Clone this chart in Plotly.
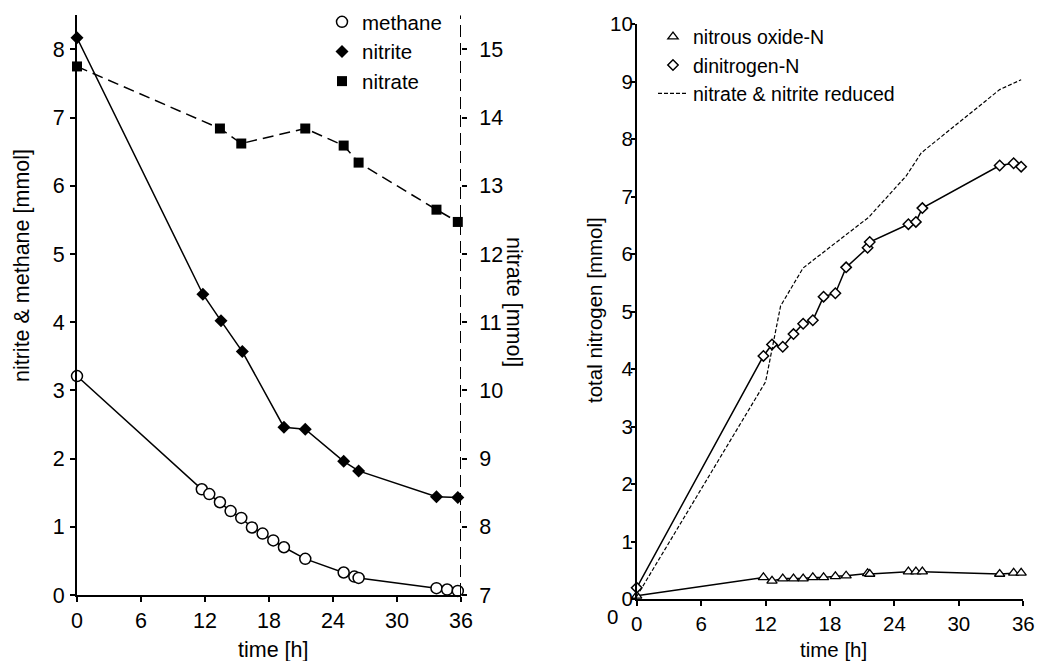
import plotly.graph_objects as go

# ---------------- data ----------------
# left panel
t_methane = [0, 11.7, 12.4, 13.4, 14.4, 15.4, 16.4, 17.4, 18.4, 19.4, 21.4, 25.0, 26.0, 26.4, 33.7, 34.7, 35.7]
methane = [3.21, 1.55, 1.48, 1.36, 1.23, 1.13, 0.99, 0.90, 0.80, 0.70, 0.53, 0.33, 0.27, 0.25, 0.10, 0.08, 0.06]

t_nitrite = [0, 11.8, 13.5, 15.5, 19.4, 21.4, 25.0, 26.4, 33.7, 35.7]
nitrite = [8.17, 4.41, 4.02, 3.57, 2.46, 2.43, 1.96, 1.82, 1.44, 1.43]

t_nitrate = [0, 13.4, 15.4, 21.4, 25.0, 26.4, 33.7, 35.7]
nitrate = [14.75, 13.84, 13.62, 13.84, 13.59, 13.34, 12.65, 12.47]

# right panel
t_gas = [0, 11.8, 12.6, 13.6, 14.6, 15.5, 16.4, 17.4, 18.5, 19.5, 21.5, 21.7, 25.3, 26.0, 26.6, 33.8, 35.1, 35.8]
dinitrogen = [0.20, 4.23, 4.43, 4.39, 4.61, 4.79, 4.85, 5.26, 5.32, 5.77, 6.11, 6.21, 6.52, 6.56, 6.80, 7.54, 7.58, 7.52]
nitrous_oxide = [0.06, 0.38, 0.32, 0.36, 0.36, 0.36, 0.38, 0.38, 0.40, 0.41, 0.45, 0.44, 0.48, 0.48, 0.48, 0.44, 0.46, 0.46]

t_reduced = [0, 12.0, 13.4, 15.5, 21.6, 25.1, 26.5, 33.8, 35.8]
reduced = [0.05, 3.78, 5.10, 5.76, 6.64, 7.36, 7.76, 8.86, 9.03]

time_ticks = [0, 6, 12, 18, 24, 30, 36]
left_ticks = [0, 1, 2, 3, 4, 5, 6, 7, 8]
nitrate_ticks = [7, 8, 9, 10, 11, 12, 13, 14, 15]
right_ticks = [0, 1, 2, 3, 4, 5, 6, 7, 8, 9, 10]

# ---------------- layout helpers ----------------
W, H = 1040, 661
FONT = "Arial, Liberation Sans, sans-serif"
FS_L = 21.5
FS_R = 20.5


def px(x):
    return x / W


def py(y):
    return 1 - y / H


fig = go.Figure()

BLACK = "black"

# ---- left panel ----
fig.add_trace(go.Scatter(x=t_methane, y=methane, mode="lines", line=dict(color=BLACK, width=1.5),
                         xaxis="x", yaxis="y", showlegend=False, cliponaxis=False))
fig.add_trace(go.Scatter(x=t_nitrite, y=nitrite, mode="lines", line=dict(color=BLACK, width=1.5),
                         xaxis="x", yaxis="y", showlegend=False, cliponaxis=False))
fig.add_trace(go.Scatter(x=t_nitrate, y=nitrate, mode="lines", line=dict(color=BLACK, width=1.5, dash="11px,6px"),
                         xaxis="x", yaxis="y2", showlegend=False, cliponaxis=False))

fig.add_trace(go.Scatter(x=t_methane, y=methane, mode="markers", name="methane",
                         marker=dict(symbol="circle", size=11, color="white", line=dict(color=BLACK, width=1.5)),
                         xaxis="x", yaxis="y", legend="legend", cliponaxis=False))
fig.add_trace(go.Scatter(x=t_nitrite, y=nitrite, mode="markers", name="nitrite",
                         marker=dict(symbol="diamond", size=10, color=BLACK, line=dict(width=0)),
                         xaxis="x", yaxis="y", legend="legend", cliponaxis=False))
fig.add_trace(go.Scatter(x=t_nitrate, y=nitrate, mode="markers", name="nitrate",
                         marker=dict(symbol="square", size=10, color=BLACK, line=dict(width=0)),
                         xaxis="x", yaxis="y2", legend="legend", cliponaxis=False))

# ---- right panel ----
fig.add_trace(go.Scatter(x=t_gas, y=nitrous_oxide, mode="lines", line=dict(color=BLACK, width=1.5),
                         xaxis="x2", yaxis="y3", showlegend=False, cliponaxis=False))
fig.add_trace(go.Scatter(x=t_gas, y=dinitrogen, mode="lines", line=dict(color=BLACK, width=1.5),
                         xaxis="x2", yaxis="y3", showlegend=False, cliponaxis=False))

fig.add_trace(go.Scatter(x=t_gas, y=nitrous_oxide, mode="markers", name="nitrous oxide-N",
                         marker=dict(symbol="triangle-up", size=9, color="white", line=dict(color=BLACK, width=1.3)),
                         xaxis="x2", yaxis="y3", legend="legend2", cliponaxis=False))
fig.add_trace(go.Scatter(x=t_gas, y=dinitrogen, mode="markers", name="dinitrogen-N",
                         marker=dict(symbol="diamond", size=8, color="white", line=dict(color=BLACK, width=1.5)),
                         xaxis="x2", yaxis="y3", legend="legend2", cliponaxis=False))
fig.add_trace(go.Scatter(x=t_reduced, y=reduced, mode="lines", name="nitrate & nitrite reduced",
                         line=dict(color=BLACK, width=1.2, dash="4px,2px"),
                         xaxis="x2", yaxis="y3", legend="legend2", cliponaxis=False))


def axis_common(fs, ticklen=5):
    return dict(showgrid=False, zeroline=False, ticks="outside", ticklen=ticklen, tickwidth=1.5, automargin=False,
                tickcolor=BLACK, tickfont=dict(family=FONT, size=fs, color=BLACK))


fig.update_layout(
    width=W, height=H,
    margin=dict(l=0, r=0, t=0, b=0, pad=0, autoexpand=False),
    paper_bgcolor="white", plot_bgcolor="white",
    font=dict(family=FONT, size=FS_L, color=BLACK),
    xaxis=dict(domain=[px(77), px(461)], range=[0, 36], tickvals=time_ticks, anchor="y",
               showline=True, linecolor=BLACK, linewidth=2, **axis_common(FS_L)),
    yaxis=dict(domain=[py(595), py(15.3)], range=[0, 8.5], tickvals=left_ticks, anchor="x",
               showline=True, linecolor=BLACK, linewidth=2, ticklabelstandoff=1, **axis_common(FS_L)),
    yaxis2=dict(overlaying="y", side="right", anchor="x", range=[7, 15.5], tickvals=nitrate_ticks,
                showline=False, ticklabelstandoff=8, **axis_common(FS_L)),
    xaxis2=dict(domain=[px(636.7), px(1023.3)], range=[0, 36], tickvals=time_ticks, anchor="y3",
                showline=True, linecolor=BLACK, linewidth=1.5, **axis_common(FS_R)),
    yaxis3=dict(domain=[py(599.3), py(24)], range=[0, 10], tickvals=right_ticks, anchor="x2",
                showline=True, linecolor=BLACK, linewidth=1.5, ticklabelstandoff=-6, **axis_common(FS_R, 4)),
    legend=dict(x=px(322), y=py(2), xanchor="left", yanchor="top", bgcolor="rgba(0,0,0,0)",
                font=dict(family=FONT, size=20.5, color=BLACK), tracegroupgap=0),
    legend2=dict(x=px(653), y=py(17.5), xanchor="left", yanchor="top", bgcolor="rgba(0,0,0,0)",
                 font=dict(family=FONT, size=19.5, color=BLACK), tracegroupgap=0),
)

# dashed right-hand axis line of the left panel
fig.add_shape(type="line", xref="x", yref="y2", x0=36, x1=36, y0=7, y1=15.5,
              line=dict(color=BLACK, width=2, dash="12px,6px"))

ann = [
    dict(text="nitrite &amp; methane [mmol]", x=px(22), y=py(266), textangle=-90, size=FS_L),
    dict(text="nitrate [mmol]", x=px(514), y=py(302), textangle=90, size=FS_L),
    dict(text="time [h]", x=px(273), y=py(650), textangle=0, size=FS_L),
    dict(text="total nitrogen [mmol]", x=px(595), y=py(310), textangle=-90, size=FS_R),
    dict(text="time [h]", x=px(833), y=py(649), textangle=0, size=FS_R),
    dict(text="0", x=px(612), y=py(616), textangle=0, size=FS_R),
]
for a in ann:
    fs = a.pop("size")
    fig.add_annotation(xref="paper", yref="paper", showarrow=False, xanchor="center", yanchor="middle",
                       font=dict(family=FONT, size=fs, color=BLACK), **a)

fig.write_html("out.html",
               config={"displayModeBar": False},
               post_script="document.body.style.margin='0';document.body.style.padding='0';"
                           "document.body.style.overflow='hidden';")
